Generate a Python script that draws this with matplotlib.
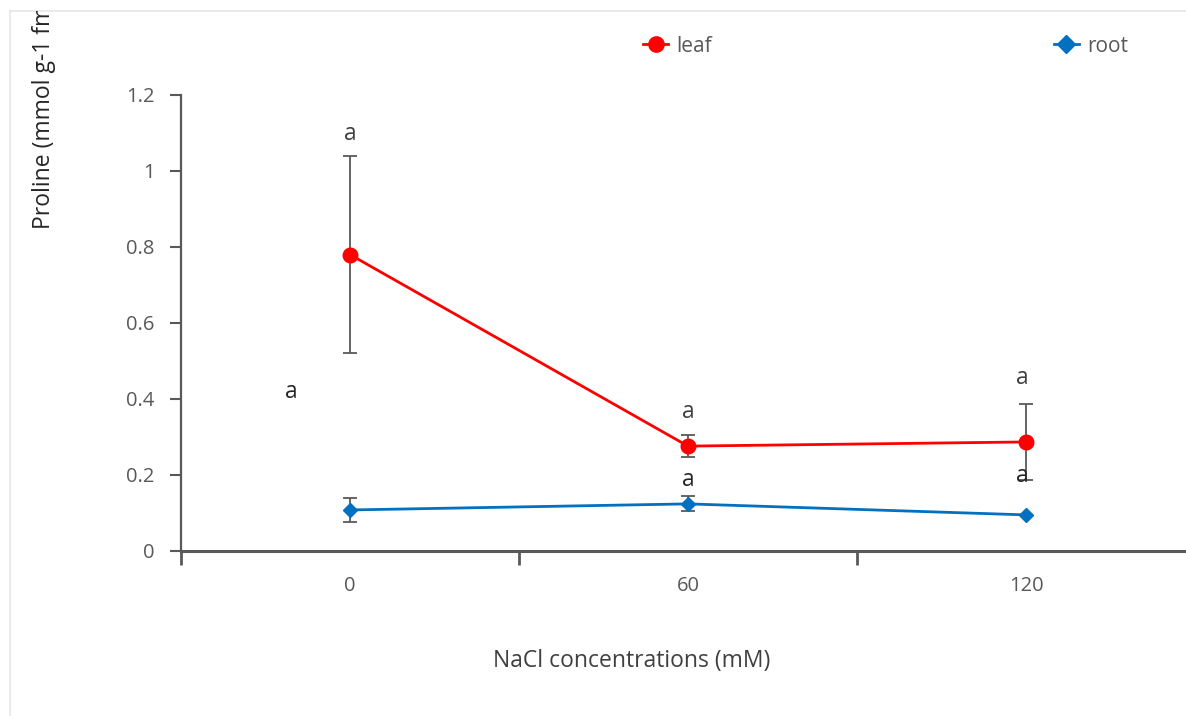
import matplotlib
matplotlib.use('Agg')
import matplotlib.pyplot as plt
from matplotlib.lines import Line2D
from matplotlib.transforms import Bbox, TransformedBbox

plt.rcParams['font.family'] = ['Open Sans', 'DejaVu Sans']

# data
nacl = ['0', '60', '120']
leaf = [0.78, 0.276, 0.287]
leaf_err = [0.26, 0.028, 0.10]
root = [0.108, 0.124, 0.095]
root_err = [0.031, 0.02, 0.0]

# significance letters (category offset, y position)
leaf_letters = ['a', 'a', 'a']
leaf_letter_dx = [0.0, 0.0, -0.01]
leaf_letter_y = [1.097, 0.366, 0.455]
root_letters = ['a', 'a', 'a']
root_letter_dx = [-0.175, 0.0, -0.01]
root_letter_y = [0.418, 0.187, 0.197]

W, H = 1186, 716
fig = plt.figure(figsize=(W / 100, H / 100), dpi=100)
ax = fig.add_axes([181 / W, 1 - 551 / H, (1195 - 181) / W, (551 - 95) / H])

xs = list(range(len(nacl)))
grey = '#595959'

ax.errorbar(xs, leaf, yerr=leaf_err, color='#ff0000', lw=2, marker='o', ms=10.5,
            ecolor=grey, elinewidth=1.3, capsize=5, capthick=1.3, zorder=3)
ax.errorbar(xs, root, yerr=root_err, color='#0070c0', lw=2, marker='D', ms=7,
            ecolor=grey, elinewidth=1.3, capsize=5, capthick=1.3, zorder=3)

for x, dx, y, t in zip(xs, leaf_letter_dx, leaf_letter_y, leaf_letters):
    ax.text(x + dx, y, t, ha='center', va='center', fontsize=16.5, color='#404040')
for x, dx, y, t in zip(xs, root_letter_dx, root_letter_y, root_letters):
    ax.text(x + dx, y, t, ha='center', va='center', fontsize=16.5, color='#262626')

ax.set_xlim(-0.5, 2.5)
ax.set_ylim(0, 1.2)
ax.set_yticks([0, 0.2, 0.4, 0.6, 0.8, 1, 1.2])
ax.set_yticklabels(['0', '0.2', '0.4', '0.6', '0.8', '1', '1.2'])
ax.set_xticks([-0.5, 0.5, 1.5])
ax.set_xticklabels([])
ax.set_xticks(xs, minor=True)
ax.set_xticklabels(nacl, minor=True)
ax.tick_params(axis='y', direction='out', length=8, width=1.5, color=grey,
               labelcolor=grey, labelsize=14.5, pad=11)
ax.tick_params(axis='x', which='major', direction='out', length=10, width=2, color=grey)
ax.tick_params(axis='x', which='minor', length=0, labelcolor=grey, labelsize=14.5, pad=18)

for s in ['top', 'right']:
    ax.spines[s].set_visible(False)
ax.spines['left'].set_color(grey)
ax.spines['left'].set_linewidth(1.6)
ax.spines['bottom'].set_color(grey)
ax.spines['bottom'].set_linewidth(2.2)

fig.text(632 / W, 1 - 661 / H, 'NaCl concentrations (mM)', ha='center', va='center',
         fontsize=16.5, color='#404040')
yl = fig.text(44 / W, 1 - 229 / H, 'Proline (mmol g-1 fm)', rotation=90,
              ha='center', va='bottom', fontsize=16.5, color='#262626')
yl.set_clip_box(TransformedBbox(Bbox([[0, 0], [1, 1 - 11 / H]]), fig.transFigure))
yl.set_clip_on(True)

handles = [Line2D([], [], color='#ff0000', lw=2, marker='o', ms=11),
           Line2D([], [], color='#0070c0', lw=2, marker='D', ms=9)]
fig.legend(handles, ['leaf', 'root'], ncol=2, loc='center left',
           bbox_to_anchor=(643 / W, 1 - 46 / H), frameon=False, fontsize=15,
           labelcolor=grey, borderpad=0, borderaxespad=0, handlelength=1.2,
           handletextpad=0.4, columnspacing=16.4)

# light frame of the original page
fig.add_artist(Line2D([10 / W, 10 / W], [0, 1 - 11 / H], color='#e6e6e6', lw=1.2))
fig.add_artist(Line2D([10 / W, 1], [1 - 11 / H, 1 - 11 / H], color='#e6e6e6', lw=1.2))

fig.savefig('out.png', dpi=100)
